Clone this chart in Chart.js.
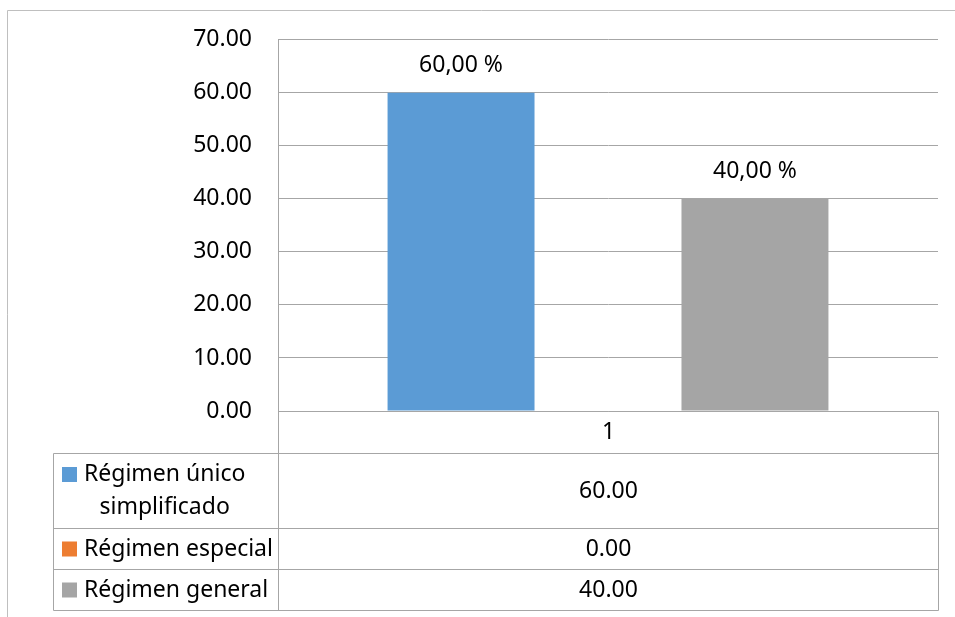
<!DOCTYPE html>
<html>
<head>
<meta charset="utf-8">
<script src="https://cdn.jsdelivr.net/npm/chart.js@4/dist/chart.umd.min.js"></script>
<style>
  html, body { margin: 0; padding: 0; background: #fff; }
  #wrap { width: 955px; height: 617px; position: relative; }
</style>
</head>
<body>
<div id="wrap"><canvas id="myChart" width="955" height="617"></canvas></div>
<script>
// datos del gráfico
const categories = ["1"];
const seriesNames = [["Régimen único", "simplificado"], "Régimen especial", "Régimen general"];
const unicoValues = [60];
const especialValues = [0];
const generalValues = [40];
const yMin = 0;
const yMax = 70;
const yStep = 10;

const seriesColors = ["#5B9BD5", "#ED7D31", "#A5A5A5"];
const FONT = "'Noto Sans', sans-serif";
const FONT_SIZE = 23;

// marco exterior
const framePlugin = {
  id: "frame",
  beforeDraw(chart) {
    const ctx = chart.ctx;
    ctx.save();
    ctx.strokeStyle = "#BFBFBF";
    ctx.lineWidth = 1;
    ctx.beginPath();
    ctx.moveTo(7.5, 640);
    ctx.lineTo(7.5, 10.5);
    ctx.lineTo(960, 10.5);
    ctx.stroke();
    ctx.restore();
  }
};

// etiquetas de datos encima de las barras
const labelPlugin = {
  id: "barLabels",
  afterDatasetsDraw(chart) {
    const ctx = chart.ctx;
    ctx.save();
    ctx.font = FONT_SIZE + "px " + FONT;
    ctx.fillStyle = "#000";
    ctx.textAlign = "center";
    ctx.textBaseline = "middle";
    chart.data.datasets.forEach((ds, i) => {
      const meta = chart.getDatasetMeta(i);
      meta.data.forEach((bar, j) => {
        const v = ds.data[j];
        if (!v) return;
        const txt = v.toFixed(2).replace(".", ",") + " %";
        ctx.fillText(txt, bar.x, bar.y - 27);
      });
    });
    ctx.restore();
  }
};

// tabla de datos debajo del gráfico
const tablePlugin = {
  id: "dataTable",
  afterDraw(chart) {
    const ctx = chart.ctx;
    const area = chart.chartArea;
    const left = Math.round(area.left) + 0.5;
    const right = Math.round(area.right) + 0.5;
    const keyLeft = 53.5;
    const rowH = [42, 75, 41, 41];
    const ys = [Math.round(area.bottom) + 0.5];
    rowH.forEach(h => ys.push(ys[ys.length - 1] + h));
    const midX = (left + right) / 2;

    ctx.save();
    ctx.strokeStyle = "#A6A6A6";
    ctx.lineWidth = 1;
    ctx.beginPath();
    // verticales
    ctx.moveTo(left, area.top);
    ctx.lineTo(left, ys[4]);
    ctx.moveTo(right, ys[0]);
    ctx.lineTo(right, ys[4]);
    ctx.moveTo(keyLeft, ys[1]);
    ctx.lineTo(keyLeft, ys[4]);
    // horizontales
    ctx.moveTo(left, ys[0]);
    ctx.lineTo(right, ys[0]);
    for (let k = 1; k <= 4; k++) {
      ctx.moveTo(keyLeft, ys[k]);
      ctx.lineTo(right, ys[k]);
    }
    ctx.stroke();

    ctx.font = FONT_SIZE + "px " + FONT;
    ctx.fillStyle = "#000";
    ctx.textBaseline = "middle";
    ctx.textAlign = "center";
    ctx.fillText(categories[0], midX, (ys[0] + ys[1]) / 2);

    chart.data.datasets.forEach((ds, i) => {
      const cy = (ys[i + 1] + ys[i + 2]) / 2;
      ctx.textAlign = "center";
      ctx.fillStyle = "#000";
      ctx.fillText(ds.data[0].toFixed(2), midX, cy);

      const name = Array.isArray(seriesNames[i]) ? seriesNames[i] : [seriesNames[i]];
      const lineH = 33;
      const firstY = cy - (name.length - 1) * lineH / 2;
      ctx.fillStyle = ds.backgroundColor;
      ctx.fillRect(62, firstY - 7.5, 15, 15);
      ctx.fillStyle = "#000";
      const w0 = ctx.measureText(name[0]).width;
      name.forEach((line, k) => {
        ctx.textAlign = "center";
        ctx.fillText(line, 84 + w0 / 2, firstY + k * lineH);
      });
    });
    ctx.restore();
  }
};

window.addEventListener("DOMContentLoaded", () => {
  const ctx = document.getElementById("myChart").getContext("2d");
  new Chart(ctx, {
    type: "bar",
    data: {
      labels: categories,
      datasets: [
        { label: seriesNames[0].join(" "), data: unicoValues, backgroundColor: seriesColors[0] },
        { label: seriesNames[1], data: especialValues, backgroundColor: seriesColors[1] },
        { label: seriesNames[2], data: generalValues, backgroundColor: seriesColors[2] },
      ],
    },
    options: {
      responsive: false,
      animation: false,
      layout: { padding: { left: 0, top: 39, right: 17, bottom: 206 } },
      datasets: { bar: { categoryPercentage: 0.668, barPercentage: 1 } },
      plugins: { legend: { display: false }, tooltip: { enabled: false } },
      scales: {
        x: { display: false },
        y: {
          min: yMin,
          max: yMax,
          afterFit(scale) { scale.width = 278; },
          ticks: {
            stepSize: yStep,
            padding: 26,
            color: "#000",
            font: { family: FONT, size: FONT_SIZE },
            callback: v => v.toFixed(2),
          },
          grid: { color: "#A6A6A6", drawTicks: false },
          border: { display: true, color: "#A6A6A6" },
        },
      },
    },
    plugins: [framePlugin, labelPlugin, tablePlugin],
  });
});
</script>
</body>
</html>
